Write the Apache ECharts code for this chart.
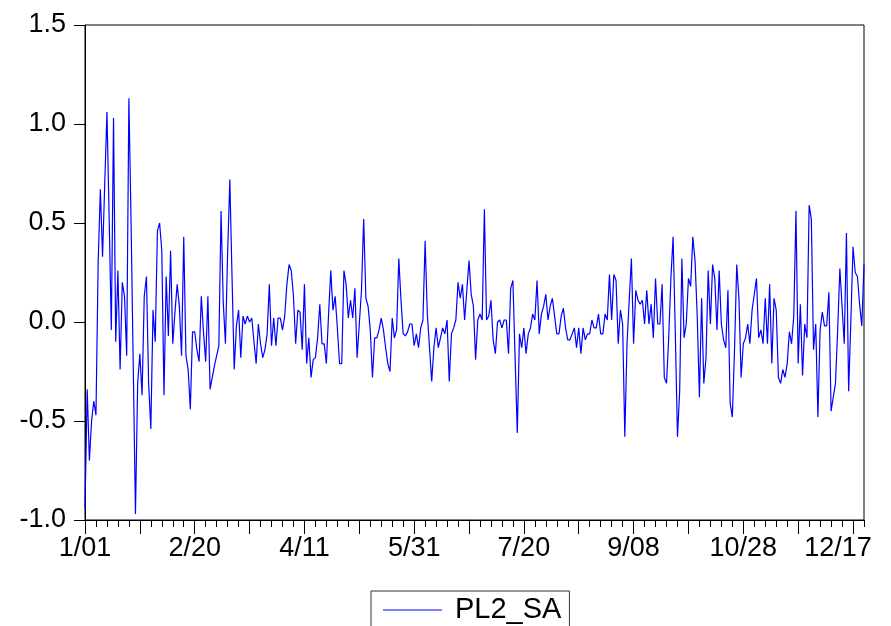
<!DOCTYPE html>
<html>
<head>
<meta charset="utf-8">
<title>PL2_SA</title>
<script src="https://cdn.jsdelivr.net/npm/echarts@6/dist/echarts.min.js"></script>
<style>
  html, body { margin: 0; padding: 0; background: #fff; }
  #chart { width: 891px; height: 626px; }
</style>
</head>
<body>
<div id="chart"></div>
<script>
// Daily series PL2_SA, one value per day starting on January 1st.
const seriesName = 'PL2_SA';
const startDate = [2001, 0, 1];

const pl2_sa_jan_feb = [
  -0.94, -0.34, -0.70, -0.50, -0.40, -0.47, 0.30, 0.67, 0.33, 0.70,
  1.06, 0.53, -0.04, 1.03, -0.10, 0.26, -0.24, 0.20, 0.13, -0.17,
  1.13, 0.50, -0.23, -0.97, -0.31, -0.16, -0.37, 0.13, 0.23, -0.31,
  -0.54, 0.06, -0.10, 0.46, 0.50, 0.36, -0.37, 0.23, -0.07, 0.36,
  -0.11, 0.05, 0.19, 0.08, -0.17, 0.43, -0.17, -0.24, -0.44, -0.05
];
const pl2_sa_feb_apr = [
  -0.05, -0.14, -0.20, 0.13, -0.05, -0.20, 0.13, -0.34, -0.28, -0.22,
  -0.17, -0.12, 0.56, 0.10, -0.11, 0.35, 0.72, 0.23, -0.24, -0.02,
  0.06, -0.18, 0.03, -0.01, 0.03, 0.00, 0.02, -0.10, -0.21, -0.01,
  -0.11, -0.18, -0.14, -0.06, 0.19, -0.12, 0.02, -0.12, 0.02, 0.02,
  -0.04, 0.03, 0.19, 0.29, 0.26, 0.13, -0.11, 0.06, 0.05, -0.14
];
const pl2_sa_apr_may = [
  0.19, -0.21, -0.08, -0.28, -0.19, -0.18, -0.08, 0.09, -0.11, -0.11,
  -0.21, 0.04, 0.26, 0.06, 0.13, -0.03, -0.21, -0.21, 0.26, 0.19,
  0.02, 0.11, 0.02, 0.17, -0.18, -0.01, 0.16, 0.52, 0.12, 0.08,
  -0.04, -0.28, -0.08, -0.08, -0.04, 0.02, -0.04, -0.13, -0.21, -0.25,
  0.02, -0.08, -0.04, 0.32, 0.11, -0.06, -0.07, -0.05, -0.01, -0.01
];
const pl2_sa_may_jul = [
  -0.12, -0.06, -0.13, -0.03, 0.01, 0.41, 0.04, -0.13, -0.30, -0.13,
  -0.03, -0.13, -0.08, -0.03, -0.06, 0.01, -0.30, -0.06, -0.03, 0.01,
  0.20, 0.12, 0.19, 0.01, 0.16, 0.31, 0.14, 0.08, -0.19, 0.01,
  0.04, 0.01, 0.57, 0.01, 0.03, 0.11, -0.09, -0.16, 0.00, 0.01,
  -0.03, 0.01, 0.01, -0.16, 0.17, 0.21, -0.18, -0.56, -0.06, -0.13
];
const pl2_sa_jul_sep = [
  -0.03, -0.16, -0.06, -0.03, 0.04, 0.01, 0.21, -0.06, 0.04, 0.08,
  0.14, 0.01, 0.08, 0.12, 0.03, -0.06, -0.06, 0.03, 0.07, -0.03,
  -0.09, -0.09, -0.06, -0.03, -0.13, -0.03, -0.16, -0.03, -0.09, -0.06,
  -0.06, 0.01, -0.03, -0.03, 0.04, -0.06, -0.06, 0.04, 0.01, 0.24,
  0.01, 0.24, 0.21, -0.11, 0.06, -0.01, -0.58, -0.11, 0.11, 0.32
];
const pl2_sa_sep_oct = [
  -0.11, 0.16, 0.11, 0.09, 0.11, -0.01, 0.16, -0.01, 0.09, -0.08,
  0.22, -0.01, -0.01, 0.19, -0.28, -0.31, -0.08, 0.22, 0.43, -0.05,
  -0.58, -0.35, 0.32, -0.08, -0.01, 0.22, 0.18, 0.43, 0.31, 0.03,
  -0.38, 0.12, -0.31, -0.18, 0.26, -0.01, 0.29, 0.22, -0.04, 0.26,
  -0.01, -0.09, -0.13, 0.16, -0.41, -0.48, -0.14, 0.29, 0.12, -0.28
];
const pl2_sa_oct_dec = [
  -0.11, -0.08, -0.01, -0.11, 0.06, 0.14, 0.22, -0.08, -0.04, -0.11,
  0.12, -0.11, 0.19, -0.21, 0.12, 0.06, -0.28, -0.31, -0.24, -0.28,
  -0.21, -0.05, -0.11, 0.03, 0.56, -0.21, 0.09, -0.27, -0.01, -0.08,
  0.59, 0.52, -0.14, -0.01, -0.48, -0.04, 0.05, -0.02, -0.02, 0.15,
  -0.45, -0.38, -0.31, -0.04, 0.27, 0.08, -0.11, 0.45, -0.35, 0.00
];
const pl2_sa_dec = [0.38, 0.25, 0.23, 0.09, -0.02, 0.29];

const pl2_sa = [].concat(
  pl2_sa_jan_feb, pl2_sa_feb_apr, pl2_sa_apr_may, pl2_sa_may_jul,
  pl2_sa_jul_sep, pl2_sa_sep_oct, pl2_sa_oct_dec, pl2_sa_dec
);

// Axis settings
const yMin = -1.0, yMax = 1.5, yStep = 0.5;
const labelEvery = 50;      // date label spacing (days)
const majorTickEvery = 25;  // long tick spacing (days)
const minorTickEvery = 5;   // short tick spacing (days)

// Day labels "M/DD"
const days = pl2_sa.map(function (_, i) {
  const d = new Date(startDate[0], startDate[1], startDate[2] + i);
  const dd = d.getDate();
  return (d.getMonth() + 1) + '/' + (dd < 10 ? '0' + dd : dd);
});
// last shown date label sits close to the frame, so it is nudged left
const lastLabelIndex = Math.floor((days.length - 1) / labelEvery) * labelEvery;

const FONT = 'Liberation Sans, Arial, Helvetica, sans-serif';
const AXIS_FONT_SIZE = 27;

const chart = echarts.init(document.getElementById('chart'), null, { renderer: 'canvas' });

chart.setOption({
  animation: false,
  backgroundColor: '#ffffff',
  grid: {
    left: 85, top: 25, width: 779, height: 495,
    show: true, borderColor: '#000', borderWidth: 1, backgroundColor: 'transparent'
  },
  xAxis: [
    {
      type: 'category',
      data: days,
      boundaryGap: false,
      axisLine: { show: true, onZero: false, lineStyle: { color: '#000', width: 1 } },
      axisTick: {
        show: true, inside: false, length: 7,
        interval: function (i) { return i % minorTickEvery === 0; },
        lineStyle: { color: '#000', width: 1 }
      },
      axisLabel: {
        show: true, margin: 15,
        interval: function (i) { return i % labelEvery === 0; },
        color: '#000', fontFamily: FONT, fontSize: AXIS_FONT_SIZE,
        formatter: function (value, i) {
          return i === lastLabelIndex ? '{last|' + value + '}' : value;
        },
        rich: {
          last: { color: '#000', fontFamily: FONT, fontSize: AXIS_FONT_SIZE, padding: [0, 30, 0, 0] }
        }
      },
      splitLine: { show: false }
    },
    {
      type: 'category',
      data: days,
      boundaryGap: false,
      position: 'bottom',
      axisLine: { show: false, onZero: false },
      axisTick: {
        show: true, inside: false, length: 14,
        interval: function (i) { return i % majorTickEvery === 0; },
        lineStyle: { color: '#000', width: 1 }
      },
      axisLabel: { show: false },
      splitLine: { show: false }
    }
  ],
  yAxis: {
    type: 'value',
    min: yMin, max: yMax, interval: yStep,
    axisLine: { show: true, onZero: false, lineStyle: { color: '#000', width: 1 } },
    axisTick: { show: true, inside: false, length: 11, lineStyle: { color: '#000', width: 1 } },
    axisLabel: {
      margin: 19, color: '#000', fontFamily: FONT, fontSize: AXIS_FONT_SIZE,
      formatter: function (v) { return v.toFixed(1); }
    },
    splitLine: { show: false }
  },
  legend: {
    show: true,
    left: 371, top: 591,
    padding: [4, 8, 24, 12],
    borderColor: '#333', borderWidth: 1,
    itemWidth: 59, itemHeight: 1,
    icon: 'rect',
    itemStyle: { color: '#0000ff', borderWidth: 0 },
    textStyle: { color: '#000', fontFamily: FONT, fontSize: 29, padding: [0, 0, 0, 8], lineHeight: 30 },
    data: [seriesName]
  },
  series: [{
    name: seriesName,
    type: 'line',
    xAxisIndex: 0,
    data: pl2_sa,
    symbol: 'none',
    showSymbol: false,
    lineStyle: { color: '#0000ff', width: 1.2 },
    itemStyle: { color: '#0000ff' }
  }]
});
</script>
</body>
</html>
